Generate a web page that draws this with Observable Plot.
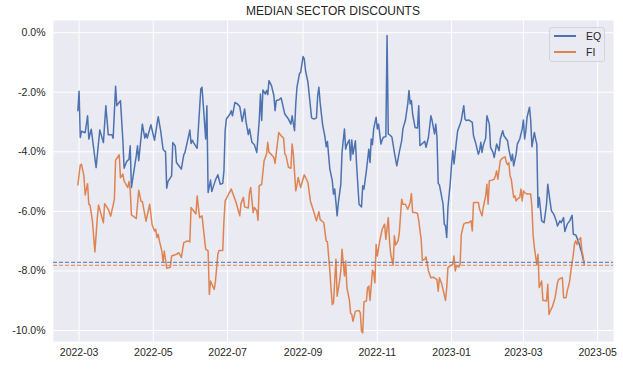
<!DOCTYPE html>
<html>
<head>
<meta charset="utf-8">
<script src="https://cdn.jsdelivr.net/npm/d3@7"></script>
<script src="https://cdn.jsdelivr.net/npm/@observablehq/plot@0.6"></script>
<style>
  body { margin: 0; background: #ffffff; }
  #wrap { position: relative; width: 623px; height: 374px; font-family: "Liberation Sans", Arial, sans-serif; color: #262626; }
  #title { position: absolute; left: 53px; width: 560px; top: 4px; text-align: center; font-size: 12px; line-height: 14px; }
  #legend { position: absolute; left: 549px; top: 27px; width: 56px; height: 35px; box-sizing: border-box;
            border: 1px solid #d3d3da; border-radius: 3px; background: rgba(234,234,242,0.8); }
  .sw { position: absolute; left: 4px; width: 22px; height: 1.5px; }
  .lb { position: absolute; left: 36px; font-size: 10.5px; line-height: 12px; }
</style>
</head>
<body>
<div id="wrap">
  <div id="chart"></div>
  <div id="title"></div>
  <div id="legend"></div>
</div>
<script>
const chartTitle = "MEDIAN SECTOR DISCOUNTS";
const seriesNames = ["EQ", "FI"];
const seriesColors = ["#4c72b0", "#dd8452"];
const refLevels = [-7.71, -7.81];
const yTicks = [-10, -8, -6, -4, -2, 0];
const xTickLabels = ["2022-03", "2022-05", "2022-07", "2022-09", "2022-11", "2023-01", "2023-03", "2023-05"];

const eqDates = ["2022-02-28","2022-03-01","2022-03-02","2022-03-03","2022-03-06","2022-03-08","2022-03-09","2022-03-11","2022-03-15","2022-03-18","2022-03-21","2022-03-23","2022-03-25","2022-03-28","2022-03-29","2022-03-31","2022-04-01","2022-04-04","2022-04-06","2022-04-07","2022-04-09","2022-04-11","2022-04-12","2022-04-13","2022-04-17","2022-04-18","2022-04-19","2022-04-22","2022-04-24","2022-04-25","2022-04-26","2022-04-29","2022-05-02","2022-05-05","2022-05-07","2022-05-09","2022-05-10","2022-05-11","2022-05-12","2022-05-13","2022-05-16","2022-05-17","2022-05-19","2022-05-20","2022-05-22","2022-05-24","2022-05-26","2022-05-27","2022-05-29","2022-05-31","2022-06-01","2022-06-02","2022-06-03","2022-06-06","2022-06-09","2022-06-10","2022-06-13","2022-06-14","2022-06-15","2022-06-17","2022-06-18","2022-06-21","2022-06-23","2022-06-25","2022-06-27","2022-06-28","2022-06-29","2022-06-30","2022-07-03","2022-07-04","2022-07-05","2022-07-07","2022-07-09","2022-07-11","2022-07-13","2022-07-15","2022-07-16","2022-07-18","2022-07-19","2022-07-21","2022-07-23","2022-07-25","2022-07-27","2022-07-28","2022-07-29","2022-07-30","2022-08-01","2022-08-02","2022-08-03","2022-08-04","2022-08-06","2022-08-08","2022-08-09","2022-08-10","2022-08-12","2022-08-14","2022-08-16","2022-08-17","2022-08-20","2022-08-22","2022-08-23","2022-08-25","2022-08-26","2022-08-27","2022-08-29","2022-08-30","2022-09-01","2022-09-02","2022-09-03","2022-09-05","2022-09-06","2022-09-08","2022-09-10","2022-09-12","2022-09-13","2022-09-14","2022-09-15","2022-09-17","2022-09-19","2022-09-20","2022-09-21","2022-09-23","2022-09-25","2022-09-26","2022-09-27","2022-09-29","2022-09-30","2022-10-02","2022-10-03","2022-10-05","2022-10-06","2022-10-07","2022-10-09","2022-10-10","2022-10-11","2022-10-12","2022-10-14","2022-10-15","2022-10-17","2022-10-19","2022-10-20","2022-10-21","2022-10-23","2022-10-25","2022-10-26","2022-10-27","2022-10-28","2022-10-29","2022-10-31","2022-11-01","2022-11-02","2022-11-04","2022-11-05","2022-11-06","2022-11-08","2022-11-09","2022-11-10","2022-11-12","2022-11-13","2022-11-15","2022-11-17","2022-11-19","2022-11-21","2022-11-22","2022-11-24","2022-11-26","2022-11-27","2022-11-28","2022-11-29","2022-11-30","2022-12-02","2022-12-04","2022-12-05","2022-12-06","2022-12-08","2022-12-10","2022-12-11","2022-12-13","2022-12-15","2022-12-16","2022-12-18","2022-12-19","2022-12-20","2022-12-21","2022-12-22","2022-12-25","2022-12-26","2022-12-27","2022-12-28","2022-12-29","2022-12-31","2023-01-01","2023-01-02","2023-01-03","2023-01-05","2023-01-06","2023-01-08","2023-01-09","2023-01-11","2023-01-12","2023-01-13","2023-01-15","2023-01-18","2023-01-19","2023-01-21","2023-01-23","2023-01-24","2023-01-25","2023-01-26","2023-01-27","2023-01-29","2023-01-30","2023-02-01","2023-02-02","2023-02-04","2023-02-05","2023-02-07","2023-02-09","2023-02-10","2023-02-12","2023-02-13","2023-02-16","2023-02-17","2023-02-19","2023-02-20","2023-02-21","2023-02-23","2023-02-24","2023-02-26","2023-02-28","2023-03-01","2023-03-02","2023-03-03","2023-03-04","2023-03-06","2023-03-07","2023-03-08","2023-03-10","2023-03-11","2023-03-12","2023-03-13","2023-03-14","2023-03-16","2023-03-18","2023-03-20","2023-03-21","2023-03-23","2023-03-24","2023-03-26","2023-03-28","2023-03-29","2023-03-31","2023-04-01","2023-04-03","2023-04-04","2023-04-06","2023-04-08","2023-04-10","2023-04-11","2023-04-13","2023-04-15","2023-04-16","2023-04-17","2023-04-18","2023-04-19","2023-04-20"];
const eqValues = [-2.62,-1.97,-3.52,-3.31,-3.36,-2.79,-3.57,-3.24,-4.53,-3.27,-3.69,-2.45,-3.43,-3.43,-3.54,-1.80,-2.45,-2.28,-3.63,-4.55,-4.33,-4.25,-3.80,-5.20,-4.13,-3.80,-4.30,-3.07,-3.54,-3.38,-3.54,-3.09,-3.61,-2.82,-3.29,-3.91,-3.97,-3.99,-5.22,-5.00,-4.81,-3.69,-3.80,-4.36,-4.47,-4.58,-4.10,-4.02,-3.65,-3.27,-3.72,-3.61,-3.69,-3.88,-1.89,-1.83,-3.57,-2.45,-5.37,-4.95,-5.33,-4.95,-4.77,-5.09,-5.06,-4.64,-3.29,-2.90,-2.73,-2.62,-2.79,-2.34,-2.39,-2.48,-2.98,-2.56,-2.95,-3.42,-3.23,-3.68,-3.76,-4.02,-2.95,-2.06,-2.95,-1.92,-2.06,-1.94,-2.08,-1.61,-1.77,-2.11,-2.62,-2.28,-2.26,-2.19,-2.56,-2.73,-2.90,-3.07,-2.79,-3.29,-2.39,-1.83,-1.38,-1.33,-0.80,-0.88,-1.27,-1.66,-2.06,-2.86,-2.90,-2.86,-2.11,-1.83,-2.34,-3.07,-3.51,-3.83,-3.65,-4.58,-4.97,-5.42,-5.25,-6.15,-5.70,-5.09,-4.02,-3.23,-3.91,-3.76,-3.60,-4.28,-3.60,-4.08,-3.63,-4.47,-5.76,-5.85,-5.14,-5.25,-4.64,-3.91,-4.36,-3.57,-3.76,-3.23,-2.84,-3.23,-3.07,-3.74,-3.60,-3.51,-3.49,-0.09,-3.40,-3.46,-3.51,-4.02,-4.47,-4.02,-3.63,-3.23,-2.95,-2.39,-1.94,-2.39,-2.28,-2.73,-3.18,-3.20,-2.45,-3.79,-3.72,-3.65,-3.85,-3.51,-2.79,-2.95,-3.40,-3.07,-3.51,-5.06,-5.11,-5.76,-6.43,-6.49,-6.88,-5.87,-5.00,-4.41,-3.96,-4.41,-3.63,-3.29,-3.07,-2.93,-2.45,-2.90,-2.95,-2.93,-3.01,-3.46,-3.74,-4.08,-3.96,-3.68,-4.02,-3.79,-3.54,-2.79,-3.07,-3.85,-4.02,-4.19,-3.74,-3.96,-3.57,-3.29,-3.46,-3.63,-3.91,-4.30,-4.08,-4.47,-4.08,-3.74,-3.57,-3.23,-2.93,-3.57,-3.29,-2.84,-2.50,-2.95,-3.83,-3.35,-3.57,-3.74,-5.87,-5.53,-6.32,-6.38,-5.76,-5.09,-5.70,-5.98,-6.10,-6.32,-6.49,-6.32,-6.38,-6.21,-6.68,-6.43,-6.32,-6.13,-6.77,-6.79,-6.99,-7.11,-7.27,-7.39,-7.61,-7.72];

const fiDates = ["2022-02-28","2022-03-02","2022-03-03","2022-03-05","2022-03-06","2022-03-08","2022-03-09","2022-03-10","2022-03-12","2022-03-14","2022-03-16","2022-03-17","2022-03-21","2022-03-22","2022-03-25","2022-03-27","2022-03-30","2022-03-31","2022-04-03","2022-04-04","2022-04-06","2022-04-07","2022-04-10","2022-04-11","2022-04-12","2022-04-13","2022-04-17","2022-04-19","2022-04-21","2022-04-22","2022-04-25","2022-04-28","2022-04-30","2022-05-02","2022-05-03","2022-05-04","2022-05-05","2022-05-06","2022-05-08","2022-05-09","2022-05-10","2022-05-12","2022-05-15","2022-05-16","2022-05-20","2022-05-22","2022-05-24","2022-05-26","2022-05-29","2022-05-31","2022-06-01","2022-06-03","2022-06-05","2022-06-06","2022-06-08","2022-06-10","2022-06-13","2022-06-15","2022-06-16","2022-06-17","2022-06-20","2022-06-21","2022-06-23","2022-06-24","2022-06-27","2022-06-28","2022-06-29","2022-07-04","2022-07-08","2022-07-11","2022-07-12","2022-07-14","2022-07-15","2022-07-18","2022-07-19","2022-07-20","2022-07-22","2022-07-23","2022-07-25","2022-07-26","2022-07-27","2022-07-29","2022-07-31","2022-08-02","2022-08-03","2022-08-04","2022-08-05","2022-08-08","2022-08-09","2022-08-12","2022-08-14","2022-08-16","2022-08-17","2022-08-18","2022-08-20","2022-08-22","2022-08-23","2022-08-24","2022-08-26","2022-08-27","2022-08-28","2022-08-30","2022-09-02","2022-09-05","2022-09-07","2022-09-10","2022-09-12","2022-09-14","2022-09-15","2022-09-18","2022-09-20","2022-09-21","2022-09-23","2022-09-24","2022-09-25","2022-09-26","2022-09-28","2022-09-29","2022-10-01","2022-10-02","2022-10-03","2022-10-05","2022-10-06","2022-10-07","2022-10-09","2022-10-10","2022-10-11","2022-10-12","2022-10-14","2022-10-17","2022-10-18","2022-10-19","2022-10-20","2022-10-21","2022-10-23","2022-10-24","2022-10-25","2022-10-26","2022-10-28","2022-10-29","2022-10-30","2022-10-31","2022-11-01","2022-11-03","2022-11-05","2022-11-07","2022-11-08","2022-11-10","2022-11-11","2022-11-12","2022-11-14","2022-11-15","2022-11-16","2022-11-18","2022-11-19","2022-11-21","2022-11-22","2022-11-24","2022-11-26","2022-11-28","2022-11-29","2022-11-30","2022-12-02","2022-12-04","2022-12-05","2022-12-07","2022-12-08","2022-12-10","2022-12-11","2022-12-13","2022-12-15","2022-12-17","2022-12-20","2022-12-21","2022-12-22","2022-12-24","2022-12-26","2022-12-27","2022-12-28","2022-12-29","2022-12-31","2023-01-02","2023-01-03","2023-01-04","2023-01-05","2023-01-07","2023-01-08","2023-01-09","2023-01-11","2023-01-13","2023-01-15","2023-01-17","2023-01-18","2023-01-19","2023-01-21","2023-01-23","2023-01-24","2023-01-26","2023-01-27","2023-01-29","2023-01-30","2023-01-31","2023-02-01","2023-02-03","2023-02-05","2023-02-06","2023-02-07","2023-02-08","2023-02-10","2023-02-11","2023-02-13","2023-02-14","2023-02-15","2023-02-16","2023-02-17","2023-02-18","2023-02-19","2023-02-21","2023-02-22","2023-02-23","2023-02-24","2023-02-26","2023-02-27","2023-02-28","2023-03-01","2023-03-02","2023-03-04","2023-03-07","2023-03-08","2023-03-09","2023-03-10","2023-03-11","2023-03-12","2023-03-13","2023-03-14","2023-03-16","2023-03-17","2023-03-18","2023-03-20","2023-03-21","2023-03-22","2023-03-23","2023-03-25","2023-03-27","2023-03-29","2023-03-30","2023-04-02","2023-04-03","2023-04-05","2023-04-06","2023-04-08","2023-04-09","2023-04-11","2023-04-12","2023-04-13","2023-04-14","2023-04-15","2023-04-17","2023-04-18","2023-04-19","2023-04-20"];
const fiValues = [-5.11,-4.44,-4.42,-4.81,-5.45,-5.07,-5.76,-5.79,-6.33,-7.36,-6.21,-5.79,-6.38,-5.74,-5.93,-6.16,-5.60,-4.28,-4.10,-4.87,-4.75,-4.98,-5.20,-5.00,-5.26,-6.12,-6.24,-5.29,-5.67,-5.67,-6.33,-5.76,-6.45,-6.66,-6.60,-6.88,-6.77,-6.99,-7.33,-7.69,-7.33,-7.91,-7.87,-7.50,-7.44,-7.39,-7.55,-7.05,-6.99,-7.02,-5.87,-5.98,-6.09,-5.48,-6.21,-6.15,-7.27,-7.33,-8.79,-8.34,-8.62,-8.36,-7.44,-7.31,-7.31,-6.32,-5.65,-5.25,-5.70,-6.15,-5.74,-5.53,-5.85,-5.89,-5.37,-5.20,-6.04,-5.87,-5.98,-6.30,-5.14,-5.09,-4.30,-4.07,-3.68,-4.02,-4.05,-4.19,-4.39,-3.35,-3.46,-3.54,-4.07,-4.13,-4.52,-4.55,-3.74,-4.07,-5.31,-5.11,-4.86,-5.20,-4.77,-5.03,-5.65,-6.04,-6.32,-6.01,-6.27,-6.38,-7.00,-7.02,-8.00,-8.62,-9.13,-9.07,-7.61,-8.85,-8.34,-8.00,-7.27,-8.17,-7.67,-8.56,-8.96,-9.41,-9.46,-9.69,-9.35,-9.33,-9.41,-10.02,-10.08,-9.04,-9.01,-8.56,-8.51,-8.99,-7.98,-8.06,-8.40,-7.11,-7.50,-6.99,-6.60,-6.43,-6.94,-6.21,-6.99,-7.44,-7.80,-6.82,-7.13,-6.99,-6.75,-5.59,-5.76,-5.76,-5.93,-5.70,-5.40,-6.04,-6.04,-6.07,-6.30,-6.94,-7.64,-7.61,-7.53,-8.00,-8.23,-8.21,-8.29,-8.68,-8.23,-8.45,-8.81,-8.99,-8.56,-7.89,-7.83,-7.78,-7.50,-8.00,-7.83,-7.87,-7.78,-6.77,-6.43,-6.38,-6.38,-6.32,-6.66,-5.70,-5.70,-5.70,-5.93,-6.15,-5.87,-5.48,-5.09,-5.76,-4.97,-4.95,-4.92,-4.80,-4.64,-4.92,-4.30,-4.24,-4.19,-4.17,-4.36,-4.43,-4.36,-4.80,-4.92,-5.53,-5.48,-5.65,-5.59,-5.53,-5.25,-5.65,-5.31,-5.37,-5.42,-5.42,-5.87,-6.82,-7.22,-7.50,-7.78,-7.44,-8.56,-8.34,-8.99,-8.99,-9.01,-8.45,-9.46,-9.35,-9.18,-8.90,-8.40,-8.28,-8.23,-8.90,-8.90,-8.68,-8.34,-8.00,-7.44,-7.08,-6.99,-7.11,-6.99,-6.88,-7.31,-7.50,-7.81];

const eq = eqDates.map((d, i) => ({date: new Date(d), value: eqValues[i]}));
const fi = fiDates.map((d, i) => ({date: new Date(d), value: fiValues[i]}));
const xTicks = xTickLabels.map(s => new Date(s + "-01"));

const chart = Plot.plot({
  width: 623,
  height: 374,
  marginTop: 20,
  marginBottom: 33,
  marginLeft: 53,
  marginRight: 10,
  style: {fontFamily: '"Liberation Sans", Arial, sans-serif', fontSize: "10.5px", color: "#262626", background: "#ffffff"},
  x: {type: "utc", domain: [new Date("2022-02-08"), new Date("2023-05-14")]},
  y: {domain: [-10.37, 0.41]},
  marks: [
    Plot.frame({fill: "#eaeaf2", stroke: "none"}),
    Plot.gridX(xTicks, {stroke: "#ffffff", strokeOpacity: 1, strokeWidth: 1}),
    Plot.gridY(yTicks, {stroke: "#ffffff", strokeOpacity: 1, strokeWidth: 1}),
    Plot.lineY(eq, {x: "date", y: "value", stroke: seriesColors[0], strokeWidth: 1.5}),
    Plot.lineY(fi, {x: "date", y: "value", stroke: seriesColors[1], strokeWidth: 1.5}),
    Plot.ruleY([refLevels[0]], {stroke: seriesColors[0], strokeWidth: 1, strokeDasharray: "4,2"}),
    Plot.ruleY([refLevels[1]], {stroke: seriesColors[1], strokeWidth: 1, strokeDasharray: "4,2"}),
    Plot.axisX(xTicks, {tickFormat: (d, i) => xTickLabels[i], tickSize: 0, tickPadding: 7, label: null}),
    Plot.axisY(yTicks, {tickFormat: d => d.toFixed(1) + "%", tickSize: 0, tickPadding: 8, label: null})
  ]
});
document.getElementById("chart").appendChild(chart);
document.getElementById("title").textContent = chartTitle;

const legend = document.getElementById("legend");
seriesNames.forEach((name, i) => {
  const sw = document.createElement("div");
  sw.className = "sw";
  sw.style.top = (7 + i * 16) + "px";
  sw.style.background = seriesColors[i];
  legend.appendChild(sw);
  const lb = document.createElement("div");
  lb.className = "lb";
  lb.style.top = (2 + i * 16) + "px";
  lb.textContent = name;
  legend.appendChild(lb);
});
</script>
</body>
</html>
